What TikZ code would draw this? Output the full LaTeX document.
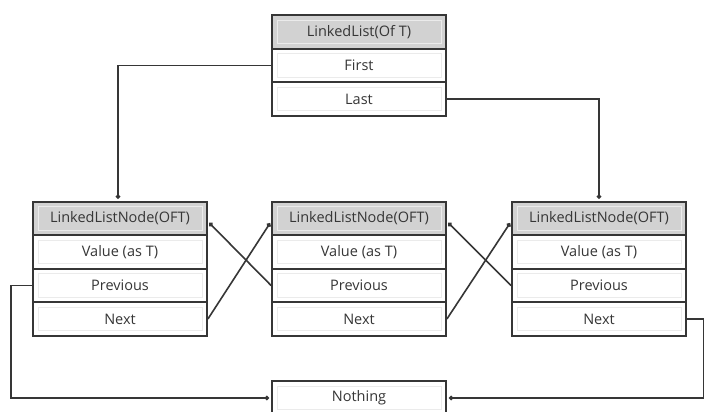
\documentclass[tikz,border=0pt]{standalone}
\usepackage{fontspec}
\setmainfont{Open Sans}
\usetikzlibrary{arrows.meta}
\definecolor{ink}{HTML}{363636}
\definecolor{headfill}{HTML}{D2D2D2}
\begin{document}
\begin{tikzpicture}[x=1pt,y=-1pt,
  row/.style={draw=ink,line width=1.8pt,minimum width=174pt,minimum height=33.5pt,
    inner sep=0pt,fill=white,text=ink,font=\fontsize{14.5}{17}\selectfont,
    path picture={\draw[black!8,line width=0.7pt]
      ([xshift=5pt,yshift=-5pt]path picture bounding box.north west) rectangle
      ([xshift=-5pt,yshift=5pt]path picture bounding box.south east);}},
  head/.style={row,fill=headfill},
  conn/.style={draw=ink,line width=1.6pt,-{Circle[length=4.5pt]},shorten >=2pt}]
\useasboundingbox (0,0) rectangle (704,412);
\clip (0,0) rectangle (704,412);
\fill[white] (0,0) rectangle (704,412);
% top list box
\node[head] (T-h) at (359,32) {LinkedList(Of T)};
\node[row]  (T-f) at (359,65.5) {First};
\node[row]  (T-l) at (359,99) {Last};
% left node
\node[head] (L-h) at (120,218.5) {LinkedListNode(OFT)};
\node[row]  (L-v) at (120,252) {Value (as T)};
\node[row]  (L-p) at (120,285.5) {Previous};
\node[row]  (L-n) at (120,319) {Next};
% middle node
\node[head] (M-h) at (359,218.5) {LinkedListNode(OFT)};
\node[row]  (M-v) at (359,252) {Value (as T)};
\node[row]  (M-p) at (359,285.5) {Previous};
\node[row]  (M-n) at (359,319) {Next};
% right node
\node[head] (R-h) at (599,218.5) {LinkedListNode(OFT)};
\node[row]  (R-v) at (599,252) {Value (as T)};
\node[row]  (R-p) at (599,285.5) {Previous};
\node[row]  (R-n) at (599,319) {Next};
% nothing
\node[row]  (N) at (359,398) {Nothing};
% connectors
\draw[conn] (T-f.west) -| ([xshift=-2pt]L-h.north);
\draw[conn] (T-l.east) -| (R-h.north);
\draw[conn] (L-p.west) -- ++(-21,0) |- (N.west);
\draw[conn] (R-n.east) -- ++(17,0) |- (N.east);
\draw[conn] (L-n.east) -- ([yshift=-3pt]M-h.west);
\draw[conn] (M-p.west) -- ([yshift=-3pt]L-h.east);
\draw[conn] (M-n.east) -- ([yshift=-3pt]R-h.west);
\draw[conn] (R-p.west) -- ([yshift=-3pt]M-h.east);
\end{tikzpicture}
\end{document}
